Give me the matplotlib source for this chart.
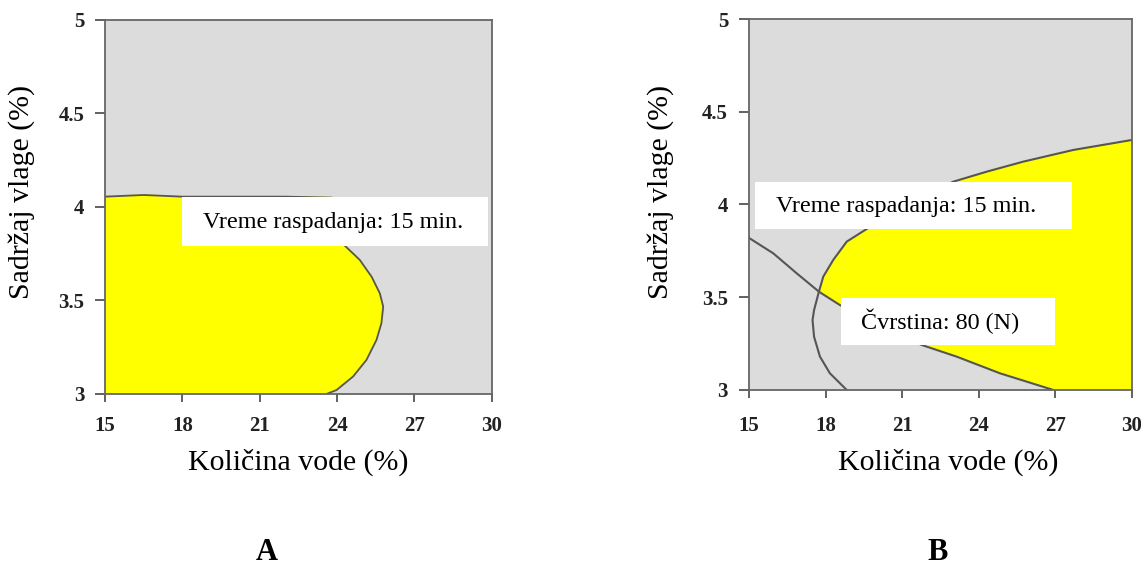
import numpy as np
import matplotlib.pyplot as plt

# panel A: boundary of the region (moisture limit on top, vreme raspadanja contour on the right)
a_top_x = [15.0, 16.5, 18.0, 22.0, 23.8]
a_top_y = [4.055, 4.064, 4.055, 4.055, 4.05]
a_curve_x = [23.8, 24.30, 24.88, 25.34, 25.66, 25.79, 25.72, 25.53, 25.14, 24.62, 23.98, 23.59]
a_curve_y = [4.05, 3.793, 3.717, 3.627, 3.538, 3.467, 3.378, 3.289, 3.182, 3.093, 3.021, 3.0]

# panel B: vreme raspadanja contour (opens to the right)
b_vr_x = [30.0, 27.70, 25.74, 24.31, 23.0, 21.2, 19.61, 18.83, 18.30, 17.91, 17.74,
          17.55, 17.49, 17.55, 17.78, 18.17, 18.83]
b_vr_y = [4.348, 4.294, 4.231, 4.177, 4.123, 4.0, 3.868, 3.80, 3.701, 3.611, 3.53,
          3.431, 3.377, 3.287, 3.18, 3.09, 3.0]
# panel B: cvrstina contour
b_cv_x = [15.0, 15.95, 16.87, 17.74, 18.56, 20.1, 21.76, 23.13, 24.83, 26.92]
b_cv_y = [3.82, 3.737, 3.629, 3.53, 3.458, 3.35, 3.243, 3.18, 3.09, 3.0]

xticks = [15, 18, 21, 24, 27, 30]
yticks = [3, 3.5, 4, 4.5, 5]
ytick_labels = ['3', '3.5', '4', '4.5', '5']

plt.rcParams['font.family'] = ['Liberation Serif', 'DejaVu Serif']

fig = plt.figure(figsize=(11.41, 5.69), dpi=100)
axA = fig.add_axes([0.092, 0.3076, 0.339, 0.6574])
axB = fig.add_axes([0.6564, 0.3146, 0.3357, 0.652])

grey = '#dcdcdc'
yellow = '#ffff00'
edge = '#555555'


def style(ax, xpad, xlab_pos, ylab_pos):
    ax.set_facecolor(grey)
    ax.set_xlim(15, 30)
    ax.set_ylim(3, 5)
    ax.set_xticks(xticks)
    ax.set_yticks(yticks)
    ax.set_yticklabels(ytick_labels)
    ax.tick_params(direction='out', length=7, width=1.3, color='#555555',
                   labelsize=15)
    ax.tick_params(axis='x', pad=xpad, length=6)
    ax.tick_params(axis='y', pad=8)
    for lab in ax.get_xticklabels() + ax.get_yticklabels():
        lab.set_fontweight('bold')
        lab.set_color('#222222')
    for s in ax.spines.values():
        s.set_color('#666666')
        s.set_linewidth(1.3)
    ax.set_xlabel('Količina vode (%)', fontsize=21.5)
    ax.set_ylabel('Sadržaj vlage (%)', fontsize=21.5)
    ax.xaxis.set_label_coords(*xlab_pos)
    ax.yaxis.set_label_coords(*ylab_pos)


# --- A ---
style(axA, 10, (0.5, -0.145), (-0.18, 0.541))
pa_x = a_top_x + a_curve_x[1:] + [15.0]
pa_y = a_top_y + a_curve_y[1:] + [3.0]
axA.fill(pa_x, pa_y, color=yellow, zorder=1)
axA.plot(a_top_x + a_curve_x[1:], a_top_y + a_curve_y[1:], color=edge, lw=1.3,
         solid_joinstyle='round', zorder=2)
axA.add_patch(plt.Rectangle((17.98, 3.79), 11.86, 0.263, facecolor='white',
                            edgecolor='none', zorder=3))
axA.text(23.84, 3.916, 'Vreme raspadanja: 15 min.', fontsize=17.4, ha='center',
         va='center', zorder=4)

# --- B ---
style(axB, 13, (0.52, -0.157), (-0.195, 0.535))
i = b_vr_x.index(17.74)
j = b_cv_x.index(17.74)
pb_x = b_vr_x[:i + 1] + b_cv_x[j + 1:] + [30.0]
pb_y = b_vr_y[:i + 1] + b_cv_y[j + 1:] + [3.0]
axB.fill(pb_x, pb_y, color=yellow, zorder=1)
axB.plot(b_vr_x, b_vr_y, color=edge, lw=1.5, solid_joinstyle='round', zorder=2)
axB.plot(b_cv_x, b_cv_y, color=edge, lw=1.5, solid_joinstyle='round', zorder=2)
axB.add_patch(plt.Rectangle((15.24, 3.868), 12.4, 0.255, facecolor='white',
                            edgecolor='none', zorder=3))
axB.text(21.14, 3.988, 'Vreme raspadanja: 15 min.', fontsize=17.4, ha='center',
         va='center', zorder=4)
axB.add_patch(plt.Rectangle((18.6, 3.243), 8.4, 0.253, facecolor='white',
                            edgecolor='none', zorder=3))
axB.text(22.48, 3.368, 'Čvrstina: 80 (N)', fontsize=17.4, ha='center',
         va='center', zorder=4)

fig.text(0.234, 0.004, 'A', fontsize=22, fontweight='bold', ha='center', va='bottom')
fig.text(0.822, 0.004, 'B', fontsize=22, fontweight='bold', ha='center', va='bottom')

fig.savefig('out.png', dpi=100)
